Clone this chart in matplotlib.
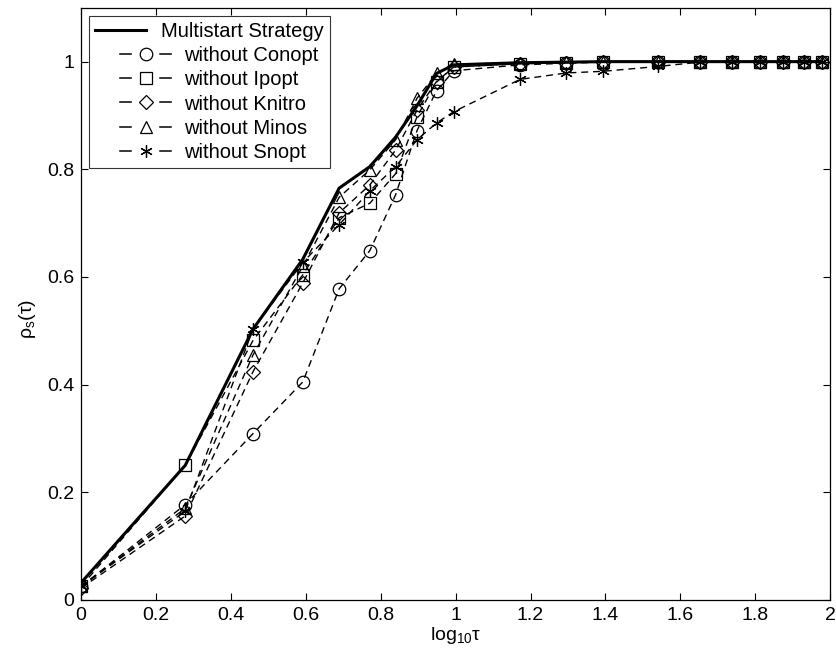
import numpy as np
import matplotlib.pyplot as plt
from matplotlib.lines import Line2D
from matplotlib.legend_handler import HandlerLine2D

plt.rcParams['font.family'] = ['Liberation Sans', 'DejaVu Sans']

# log10(tau) sample points
log_tau = [0.0, 0.278, 0.459, 0.592, 0.689, 0.771, 0.840, 0.897, 0.949, 0.995,
           1.172, 1.296, 1.393, 1.540, 1.652, 1.739, 1.812, 1.874, 1.930, 1.977]

multistart = [0.032, 0.250, 0.503, 0.633, 0.765, 0.805, 0.860, 0.918, 0.978, 0.994,
              0.998, 0.999, 1.0, 1.0, 1.0, 1.0, 1.0, 1.0, 1.0, 1.0]
no_conopt = [0.025, 0.177, 0.309, 0.405, 0.578, 0.649, 0.753, 0.872, 0.946, 0.983,
             0.994, 0.997, 0.999, 1.0, 1.0, 1.0, 1.0, 1.0, 1.0, 1.0]
no_ipopt = [0.025, 0.250, 0.482, 0.604, 0.710, 0.737, 0.792, 0.898, 0.962, 0.990,
            0.996, 0.998, 1.0, 1.0, 1.0, 1.0, 1.0, 1.0, 1.0, 1.0]
no_knitro = [0.022, 0.156, 0.424, 0.589, 0.719, 0.771, 0.836, 0.910, 0.963, 0.990,
             0.996, 0.998, 1.0, 1.0, 1.0, 1.0, 1.0, 1.0, 1.0, 1.0]
no_minos = [0.025, 0.170, 0.455, 0.620, 0.748, 0.799, 0.855, 0.932, 0.978, 0.995,
            0.998, 0.999, 1.0, 1.0, 1.0, 1.0, 1.0, 1.0, 1.0, 1.0]
no_snopt = [0.025, 0.165, 0.503, 0.627, 0.697, 0.760, 0.805, 0.855, 0.886, 0.907,
            0.967, 0.979, 0.982, 0.991, 0.999, 1.0, 1.0, 1.0, 1.0, 1.0]

series = [
    (no_conopt, 'o', 9, 'without Conopt'),
    (no_ipopt, 's', 8, 'without Ipopt'),
    (no_knitro, 'D', 7, 'without Knitro'),
    (no_minos, '^', 9, 'without Minos'),
    (no_snopt, (6, 2, 0), 9, 'without Snopt'),
]

SOLID_FRAC = 0.69  # solid entry only uses the left part of the handle box


class SolidHandler(HandlerLine2D):
    def create_artists(self, legend, orig, xdescent, ydescent, width, height,
                       fontsize, trans):
        y = height / 2 - ydescent
        ln = Line2D([-xdescent, -xdescent + width * SOLID_FRAC], [y, y],
                    color='k', lw=orig.get_linewidth(), transform=trans)
        return [ln]


class DashMarkHandler(HandlerLine2D):
    # "- o -" style entry: two short dashes with the marker between them
    def create_artists(self, legend, orig, xdescent, ydescent, width, height,
                       fontsize, trans):
        y = height / 2 - ydescent
        x0 = -xdescent
        arts = []
        for a, b in [(0.34, 0.48), (0.88, 1.02)]:
            arts.append(Line2D([x0 + a * width, x0 + b * width], [y, y],
                               color='k', lw=1.1, transform=trans))
        arts.append(Line2D([x0 + 0.68 * width], [y], ls='none',
                           marker=orig.get_marker(), ms=orig.get_markersize(),
                           mfc='none', mec='k', mew=orig.get_markeredgewidth(),
                           transform=trans))
        return arts


fig = plt.figure(figsize=(8.36, 6.5), dpi=100)
ax = fig.add_axes([0.097, 0.077, 0.896, 0.911])

solid, = ax.plot(log_tau, multistart, color='k', lw=2.2, label='Multistart Strategy')
hmap = {solid: SolidHandler()}
for vals, mk, ms, name in series:
    ln, = ax.plot(log_tau, vals, color='k', lw=1.0, dashes=(5, 3.5),
                  marker=mk, ms=ms, mfc='none', mec='k', mew=0.9, label=name)
    hmap[ln] = DashMarkHandler()

ax.set_xlim(0, 2)
ax.set_ylim(0, 1.1)
ax.set_xticks(np.arange(0, 2.01, 0.2))
ax.set_xticklabels(['0', '0.2', '0.4', '0.6', '0.8', '1', '1.2', '1.4', '1.6', '1.8', '2'])
ax.set_yticks(np.arange(0, 1.01, 0.2))
ax.set_yticklabels(['0', '0.2', '0.4', '0.6', '0.8', '1'])
ax.tick_params(direction='in', length=5, width=0.8, top=True, right=True,
               labelsize=14, pad=5)
for sp in ax.spines.values():
    sp.set_linewidth(0.9)

ax.set_xlabel(r'log$_\mathregular{10}$τ', fontsize=14, labelpad=1)
ax.set_ylabel(r'ρ$_\mathregular{s}$(τ)', fontsize=14, labelpad=6)
ax.yaxis.set_label_coords(-0.058, 0.475)

leg = ax.legend(handler_map=hmap, loc='upper left',
                bbox_to_anchor=(0.0107, 0.9865), borderaxespad=0, fontsize=14.5,
                frameon=True, fancybox=False, edgecolor='k', handlelength=3.68,
                borderpad=0.3, labelspacing=0.26, handletextpad=0.75)
leg.get_frame().set_linewidth(0.8)

# pull the solid entry's label left, next to its shorter line
first_row = leg._legend_handle_box.get_children()[0].get_children()[0]
first_row.get_children()[0].width *= SOLID_FRAC

fig.savefig('out.png', dpi=100)
